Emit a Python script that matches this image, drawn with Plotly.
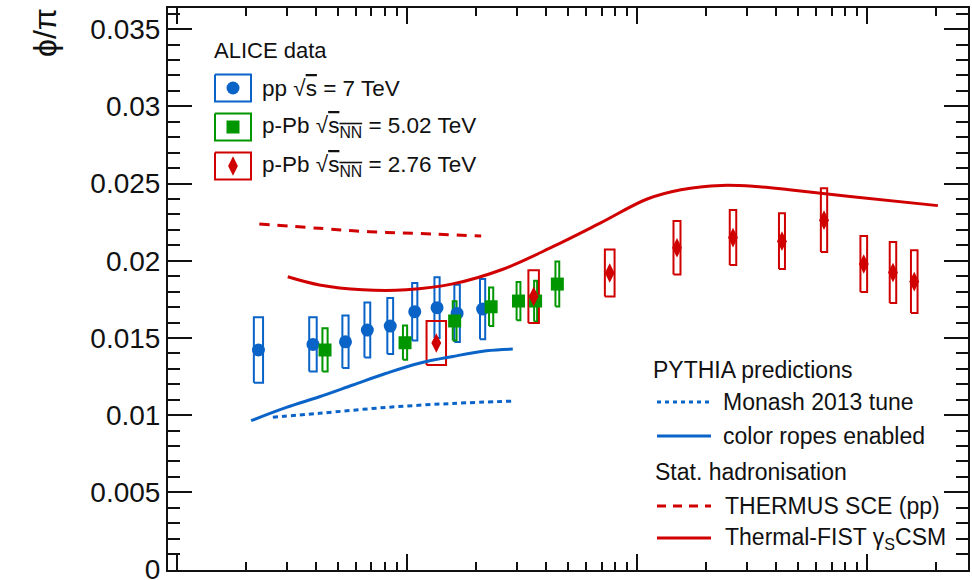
import math
import plotly.graph_objects as go

# ---------------- data ----------------
pp_x = [2.26, 3.90, 5.40, 6.72, 8.45, 10.8, 13.5, 16.5, 21.3]
pp_y = [0.01422, 0.01458, 0.01475, 0.01551, 0.01577, 0.01670, 0.01696, 0.01659, 0.01687]
pp_sys = [0.00212, 0.00176, 0.00170, 0.00178, 0.00181, 0.00186, 0.00197, 0.00186, 0.00195]

ppb_x = [4.4, 9.8, 16.1, 23.2, 30.5, 36.2, 45.0]
ppb_y = [0.01422, 0.01469, 0.01610, 0.01702, 0.01739, 0.01739, 0.01849]
ppb_sys = [0.00140, 0.00111, 0.00127, 0.00125, 0.00124, 0.00132, 0.00146]

pbpb_x = [13.4, 35.5, 76, 149, 261, 426, 649, 966, 1294, 1601]
pbpb_y = [0.01467, 0.01768, 0.01921, 0.02084, 0.02150, 0.02127, 0.02263, 0.01979, 0.01924, 0.01865]
pbpb_sys = [0.00143, 0.00171, 0.00152, 0.00173, 0.00178, 0.00180, 0.00206, 0.00182, 0.00197, 0.00203]

thermus_x = [2.28, 4.16, 6.86, 11.3, 21.0]
thermus_y = [0.02238, 0.02210, 0.02188, 0.02177, 0.02160]

fist_x = [3.03, 4.16, 6.42, 9.92, 15.8, 26.1, 43.0, 68.7, 110.6, 155, 233, 327, 458, 842, 2028]
fist_y = [0.01896, 0.01843, 0.01812, 0.01812, 0.01850, 0.01945, 0.02091, 0.02242,
          0.02400, 0.02460, 0.02488, 0.02481, 0.02460, 0.02416, 0.02357]

ropes_x = [2.10, 2.99, 4.16, 5.81, 8.12, 11.3, 15.8, 22.1, 28.8]
ropes_y = [0.00964, 0.01050, 0.01119, 0.01195, 0.01271, 0.01336, 0.01380, 0.01417, 0.01428]

monash_x = [2.61, 4.16, 8.12, 15.8, 28.8]
monash_y = [0.00986, 0.01012, 0.01050, 0.01076, 0.01091]

y_tickvals = [0, 0.005, 0.01, 0.015, 0.02, 0.025, 0.03, 0.035]
y_ticktext = ["0", "0.005", "0.01", "0.015", "0.02", "0.025", "0.03", "0.035"]

# ---------------- styles ----------------
BLUE = "#0a64c8"
GREEN = "#009600"
RED = "#d00000"
FONT = "Liberation Sans, Arial, sans-serif"

# box widths (pixels) for the systematic boxes
pp_box_px = [9.2, 7.5, 6.2, 5.8, 5.8, 5.2, 5.2, 5.5, 5.2]
ppb_box_px = [5.2, 4.2, 3.8, 4.2, 3.8, 3.0, 3.8]
pbpb_box_px = [19.5, 10.5, 9.7, 7.0, 6.5, 6.0, 6.3, 6.7, 6.5, 6.6]

L, R, T, B = 168, 4, 8, 10
W, H = 972, 580
plot_w = W - L - R
plot_h = H - T - B
XR = [-0.039, 3.438]
px_per_dec = plot_w / (XR[1] - XR[0])


def px_to_paper(px, py):
    return (px - L) / plot_w, (H - B - py) / plot_h


def boxes(xs, ys, errs, widths):
    bx, by = [], []
    for x, y, e, w in zip(xs, ys, errs, widths):
        f = 10 ** (w / 2.0 / px_per_dec)
        x0, x1 = x / f, x * f
        bx += [x0, x1, x1, x0, x0, None]
        by += [y - e, y - e, y + e, y + e, y - e, None]
    return bx, by


fig = go.Figure()

# systematic boxes
for xs, ys, es, ws, col in [
    (pp_x, pp_y, pp_sys, pp_box_px, BLUE),
    (ppb_x, ppb_y, ppb_sys, ppb_box_px, GREEN),
    (pbpb_x, pbpb_y, pbpb_sys, pbpb_box_px, RED),
]:
    bx, by = boxes(xs, ys, es, ws)
    fig.add_trace(go.Scatter(x=bx, y=by, mode="lines", line=dict(color=col, width=2),
                             showlegend=False, hoverinfo="skip"))

# model curves
fig.add_trace(go.Scatter(x=monash_x, y=monash_y, mode="lines", line_shape="spline",
                         line=dict(color=BLUE, width=3, dash="5px,4px"), showlegend=False))
fig.add_trace(go.Scatter(x=ropes_x, y=ropes_y, mode="lines", line_shape="spline",
                         line=dict(color=BLUE, width=3), showlegend=False))
fig.add_trace(go.Scatter(x=thermus_x, y=thermus_y, mode="lines", line_shape="spline",
                         line=dict(color=RED, width=3, dash="10px,8px"), showlegend=False))
fig.add_trace(go.Scatter(x=fist_x, y=fist_y, mode="lines", line_shape="spline",
                         line=dict(color=RED, width=3), showlegend=False))

# data markers
fig.add_trace(go.Scatter(x=pp_x, y=pp_y, mode="markers",
                         marker=dict(symbol="circle", size=13, color=BLUE), showlegend=False))
fig.add_trace(go.Scatter(x=ppb_x, y=ppb_y, mode="markers",
                         marker=dict(symbol="square", size=13, color=GREEN), showlegend=False))
fig.add_trace(go.Scatter(x=pbpb_x, y=pbpb_y, mode="markers",
                         marker=dict(symbol="diamond-tall", size=14, color=RED), showlegend=False))

# ---------------- legends (pixel coordinates on overlay axes) ----------------
leg_entries = [
    ("pp √<span style='text-decoration:overline'>s</span> = 7 TeV", BLUE, "circle", 88),
    ("p-Pb √<span style='text-decoration:overline'>s<sub>NN</sub></span> = 5.02 TeV", GREEN, "square", 127),
    ("p-Pb √<span style='text-decoration:overline'>s<sub>NN</sub></span> = 2.76 TeV", RED, "diamond-tall", 166),
]
annotations = []
annotations.append(dict(x=212, y=50, xref="x2", yref="y2", text="ALICE data", showarrow=False,
                        xanchor="left", yanchor="middle", font=dict(size=22, color="#111", family=FONT)))
for text, col, sym, yc in leg_entries:
    fig.add_trace(go.Scatter(x=[215, 251, 251, 215, 215], y=[yc - 13.5, yc - 13.5, yc + 13.5, yc + 13.5, yc - 13.5],
                             xaxis="x2", yaxis="y2", mode="lines", line=dict(color=col, width=2),
                             showlegend=False, hoverinfo="skip"))
    fig.add_trace(go.Scatter(x=[233], y=[yc], xaxis="x2", yaxis="y2", mode="markers",
                             marker=dict(symbol=sym, size=13 if sym != "diamond-tall" else 14, color=col),
                             showlegend=False, hoverinfo="skip"))
    annotations.append(dict(x=260, y=yc, xref="x2", yref="y2", text=text, showarrow=False,
                            xanchor="left", yanchor="middle", font=dict(size=22.5, color="#111", family=FONT)))

right_entries = [
    ("PYTHIA predictions", None, None, 651, 370),
    ("Monash 2013 tune", BLUE, "4px,4px", 721, 402),
    ("color ropes enabled", BLUE, "solid", 721, 436),
    ("Stat. hadronisation", None, None, 653, 472),
    ("THERMUS SCE (pp)", RED, "9px,7px", 723, 506),
    ("Thermal-FIST γ<sub>S</sub>CSM", RED, "solid", 723, 538),
]
for text, col, dash, xt, yc in right_entries:
    if col is not None:
        fig.add_trace(go.Scatter(x=[657, 711], y=[yc, yc], xaxis="x2", yaxis="y2", mode="lines",
                                 line=dict(color=col, width=3, dash=dash), showlegend=False, hoverinfo="skip"))
    annotations.append(dict(x=xt, y=yc, xref="x2", yref="y2", text=text, showarrow=False,
                            xanchor="left", yanchor="middle", font=dict(size=23, color="#111", family=FONT)))

# y-axis title (paper coordinates, outside the plot area)
tx, ty = px_to_paper(45, 33)
annotations.append(dict(x=tx, y=ty, xref="paper", yref="paper", text="ϕ/π", textangle=-90, showarrow=False,
                        xanchor="center", yanchor="middle", font=dict(size=32, color="#111", family=FONT)))

minor_x = [m * 10 ** d for d in range(0, 4) for m in range(2, 10)]

fig.update_layout(
    width=W, height=H,
    margin=dict(l=L, r=R, t=T, b=B, autoexpand=False),
    paper_bgcolor="white", plot_bgcolor="white",
    showlegend=False,
    annotations=annotations,
    xaxis=dict(type="log", range=XR, showgrid=False, zeroline=False,
               showline=True, linecolor="#111", linewidth=2, mirror="allticks",
               ticks="inside", ticklen=16, tickwidth=2, tickcolor="#111",
               tickvals=[1, 10, 100, 1000], showticklabels=False,
               minor=dict(tickvals=minor_x, ticks="inside", ticklen=8, tickwidth=2, tickcolor="#111")),
    yaxis=dict(range=[-0.00003, 0.03637], showgrid=False, zeroline=False,
               showline=True, linecolor="#111", linewidth=2, mirror="allticks",
               ticks="inside", ticklen=24, tickwidth=2, tickcolor="#111",
               tickvals=y_tickvals, ticktext=y_ticktext, ticklabelstandoff=0,
               ticklabeloverflow="allow", automargin=False,
               tickfont=dict(size=28, color="#111", family=FONT),
               minor=dict(dtick=0.001, tick0=0, ticks="inside", ticklen=12, tickwidth=2, tickcolor="#111")),
    xaxis2=dict(overlaying="x", range=[L, W - R], visible=False, fixedrange=True),
    yaxis2=dict(overlaying="y", range=[H - B, T], visible=False, fixedrange=True),
)

fig.write_html("out.html")
